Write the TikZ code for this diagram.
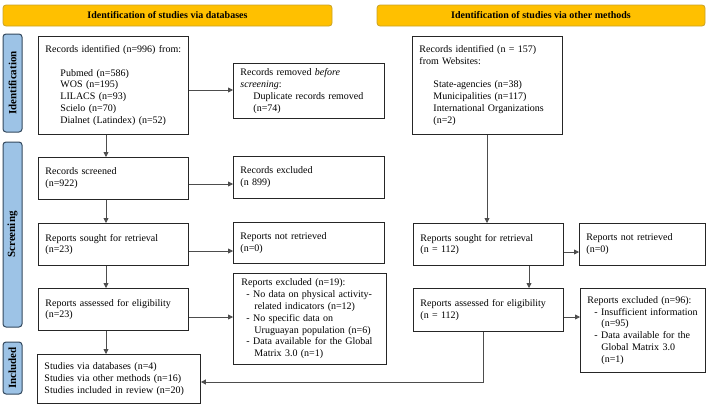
\documentclass[tikz,border=0pt]{standalone}
\usepackage{fontspec}
\setmainfont{Liberation Serif}
\usetikzlibrary{arrows.meta}
\hyphenpenalty=10000
\exhyphenpenalty=10000
\definecolor{gold}{HTML}{FFC000}
\definecolor{goldline}{HTML}{C9A227}
\definecolor{sideblue}{HTML}{9DC3E6}
\definecolor{sideline}{HTML}{34495E}
\definecolor{conn}{HTML}{4D4D4D}
\tikzset{
  box/.style={draw=black!85, line width=0.9pt, fill=white, anchor=north west, align=left,
    inner xsep=7pt, inner ysep=2pt, font=\fontsize{10}{11.8}\selectfont},
  banner/.style={draw=goldline, fill=gold, line width=0.8pt, rounded corners=3pt,
    minimum height=21pt, font=\bfseries\fontsize{10}{12}\selectfont},
  side/.style={draw=sideline, fill=sideblue, line width=1pt, rounded corners=3pt,
    rotate=90, minimum height=19pt, inner sep=0pt, font=\bfseries\fontsize{11}{13}\selectfont},
  arr/.style={draw=conn, line width=0.8pt, -{Triangle[length=5pt,width=5pt]}},
  ln/.style={draw=conn, line width=0.8pt}
}
\begin{document}
\begin{tikzpicture}[x=1pt,y=-1pt]
\useasboundingbox (0,0) rectangle (708,407);
% banners
\node[banner, minimum width=329pt] (b1) at (167.5,15.5) {Identification of studies via databases};
\node[banner, minimum width=328pt] (b2) at (541,15.5) {Identification of studies via other methods};
% side labels
\node[side, minimum width=98pt] (s1) at (12.5,83) {Identification};
\node[side, minimum width=185pt] (s2) at (12.5,234.5) {Screening};
\node[side, minimum width=52pt] (s3) at (12.5,368) {Included};
% left column
\node[box, text width=136pt, minimum height=98pt] (id1) at (38,36) {Records identified (n=996) from:\\[11.8pt]
\hspace*{15pt}Pubmed (n=586)\\
\hspace*{15pt}WOS (n=195)\\
\hspace*{15pt}LILACS (n=93)\\
\hspace*{15pt}Scielo (n=70)\\
\hspace*{15pt}Dialnet (Latindex) (n=52)};
\node[box, text width=137pt, minimum height=55pt] (rem) at (233,63) {Records removed \textit{before}\\
\textit{screening}:\\
\hspace*{13pt}Duplicate records removed\\
\hspace*{13pt}(n=74)};
\node[box, text width=136pt, minimum height=42pt] (scr) at (38,157) {Records screened\\(n=922)};
\node[box, text width=137pt, minimum height=42pt] (exc) at (233,156) {Records excluded\\(n 899)};
\node[box, text width=136pt, minimum height=42pt] (sou) at (38,223) {Reports sought for retrieval\\(n=23)};
\node[box, text width=137pt, minimum height=41pt] (nre) at (233,222) {Reports not retrieved\\(n=0)};
\node[box, text width=136pt, minimum height=42pt] (ass) at (38,288) {Reports assessed for eligibility\\(n=23)};
\node[box, text width=137pt, inner xsep=8pt, minimum height=91pt] (rex) at (233,273) {Reports excluded (n=19):\\
\hspace*{5pt}- No data on physical activity-\\
\hspace*{13pt}related indicators (n=12)\\
\hspace*{5pt}- No specific data on\\
\hspace*{13pt}Uruguayan population (n=6)\\
\hspace*{5pt}- Data available for the Global\\
\hspace*{13pt}Matrix 3.0 (n=1)};
\node[box, text width=149pt, minimum height=49pt] (inc) at (37,354) {Studies via databases (n=4)\\
Studies via other methods (n=16)\\
Studies included in review (n=20)};
% right column
\node[box, text width=136pt, minimum height=98pt] (id2) at (412,36) {Records identified (n = 157)\\
from Websites:\\[11.8pt]
\hspace*{14pt}State-agencies (n=38)\\
\hspace*{14pt}Municipalities (n=117)\\
\hspace*{14pt}International Organizations\\
\hspace*{14pt}(n=2)};
\node[box, text width=136pt, minimum height=42pt] (sou2) at (413,223) {Reports sought for retrieval\\(n = 112)};
\node[box, text width=112pt, minimum height=42pt] (nre2) at (579,223) {Reports not retrieved\\(n=0)};
\node[box, text width=136pt, minimum height=43pt] (ass2) at (413,288) {Reports assessed for eligibility\\(n = 112)};
\node[box, text width=111pt, minimum height=84pt] (rex2) at (580,288) {Reports excluded (n=96):\\
\hspace*{7pt}- Insufficient information\\
\hspace*{14pt}(n=95)\\
\hspace*{7pt}- Data available for the\\
\hspace*{14pt}Global Matrix 3.0\\
\hspace*{14pt}(n=1)};
% helper coordinates
\coordinate (xl) at (106,0);
\coordinate (xr1) at (487,0);
\coordinate (xr2) at (529,0);
\coordinate (xr3) at (483,0);
\coordinate (y1) at (0,90);
\coordinate (y2) at (0,184);
\coordinate (y3) at (0,251);
\coordinate (y4) at (0,317);
\coordinate (y5) at (0,252);
\coordinate (y6) at (0,317);
\coordinate (y7) at (0,382);
% connectors left
\draw[arr] (id1.south -| xl) -- (scr.north -| xl);
\draw[arr] (scr.south -| xl) -- (sou.north -| xl);
\draw[arr] (sou.south -| xl) -- (ass.north -| xl);
\draw[arr] (ass.south -| xl) -- (inc.north -| xl);
\draw[arr] (id1.east |- y1) -- (rem.west |- y1);
\draw[arr] (scr.east |- y2) -- (exc.west |- y2);
\draw[arr] (sou.east |- y3) -- (nre.west |- y3);
\draw[arr] (ass.east |- y4) -- (rex.west |- y4);
% connectors right
\draw[arr] (id2.south -| xr1) -- (sou2.north -| xr1);
\draw[arr] (sou2.east |- y5) -- (nre2.west |- y5);
\draw[arr] (sou2.south -| xr2) -- (ass2.north -| xr2);
\draw[arr] (ass2.east |- y6) -- (rex2.west |- y6);
\draw[arr] (ass2.south -| xr3) -- (xr3 |- y7) -- (inc.east |- y7);
\end{tikzpicture}
\end{document}
